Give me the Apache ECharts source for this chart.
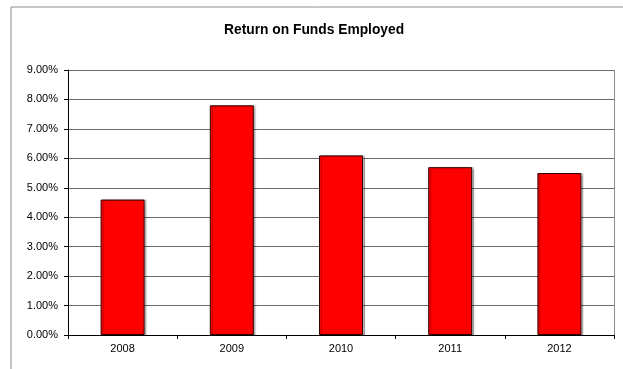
<!DOCTYPE html>
<html>
<head>
<meta charset="utf-8">
<script src="https://cdn.jsdelivr.net/npm/echarts@6/dist/echarts.min.js"></script>
<style>
  html, body { margin: 0; padding: 0; background: #fff; }
  #chart { width: 623px; height: 369px; }
</style>
</head>
<body>
<div id="chart"></div>
<script>
// Return on funds employed, by year (percent)
const years = ['2008', '2009', '2010', '2011', '2012'];
const returnPct = [4.6, 7.8, 6.1, 5.7, 5.5];
const chartTitle = 'Return on Funds Employed';

const chart = echarts.init(document.getElementById('chart'), null, { renderer: 'canvas' });

const font = '"Liberation Sans", Arial, sans-serif';

chart.setOption({
  animation: false,
  backgroundColor: '#fff',
  title: {
    text: chartTitle,
    left: 224,
    top: 23,
    padding: 0,
    textStyle: { fontFamily: font, fontSize: 13.8, fontWeight: 'bold', color: '#000' }
  },
  graphic: [{
    type: 'rect',
    shape: { x: 11, y: 7, width: 700, height: 400 },
    style: { fill: 'none', stroke: '#8c8c8c', lineWidth: 1 },
    silent: true,
    z: -1
  }, {
    type: 'line',
    shape: { x1: 614.5, y1: 70, x2: 614.5, y2: 335 },
    style: { stroke: '#8c8c8c', lineWidth: 1 },
    silent: true
  }],
  grid: { left: 68, right: 9, top: 70, bottom: 34, containLabel: false },
  xAxis: {
    type: 'category',
    data: years,
    axisLine: { lineStyle: { color: '#000', width: 1 } },
    axisTick: { show: true, length: 4, inside: false, alignWithLabel: false, lineStyle: { color: '#000' } },
    axisLabel: { fontFamily: font, fontSize: 11, color: '#000', margin: 8 }
  },
  yAxis: {
    type: 'value',
    min: 0,
    max: 9,
    interval: 1,
    axisLine: { show: true, lineStyle: { color: '#000', width: 1 } },
    axisTick: { show: true, length: 4, lineStyle: { color: '#000' } },
    axisLabel: {
      fontFamily: font, fontSize: 11, color: '#000', margin: 10,
      formatter: v => v.toFixed(2) + '%'
    },
    splitLine: { show: true, lineStyle: { color: '#6a6a6a', width: 1 } }
  },
  series: [{
    type: 'bar',
    data: returnPct,
    barWidth: 44,
    itemStyle: {
      color: '#ff0000',
      borderColor: '#330000',
      borderWidth: 1,
      shadowColor: 'rgba(0,0,0,0.25)',
      shadowOffsetX: 2,
      shadowOffsetY: 0,
      shadowBlur: 1
    }
  }]
});
</script>
</body>
</html>
